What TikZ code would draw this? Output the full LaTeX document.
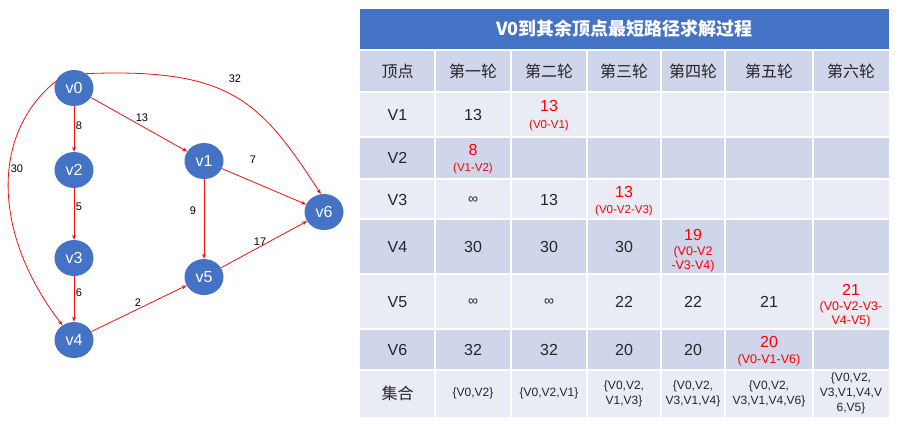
\documentclass[tikz,border=0pt]{standalone}
\usepackage{fontspec}
\setmainfont{Liberation Sans}
\newfontfamily\cjk{Noto Sans CJK SC}
\usetikzlibrary{shapes.geometric,arrows.meta}
\definecolor{nodeblue}{HTML}{4472C4}
\definecolor{titleblue}{HTML}{4472C4}
\definecolor{rowdark}{HTML}{CFD5EA}
\definecolor{rowlight}{HTML}{E9EBF5}
\definecolor{edgered}{HTML}{F01010}
\definecolor{redtext}{HTML}{FF0000}
\definecolor{bodytext}{HTML}{262626}
\begin{document}
\begin{tikzpicture}[x=1pt,y=-1pt,
  vert/.style={ellipse,fill=nodeblue,minimum width=39pt,minimum height=36pt,inner sep=0pt,text=white,font=\fontsize{16}{16}\selectfont},
  redarrow/.style={draw=edgered,line width=0.8pt,-{Stealth[length=5pt,width=4pt]}},
  elabel/.style={font=\fontsize{11}{12}\selectfont,inner sep=0pt,text=black},
  tcell/.style={font=\fontsize{16}{18}\selectfont,inner sep=0pt,text=bodytext},
  hcell/.style={font=\cjk\fontsize{16}{18}\selectfont,inner sep=0pt,text=bodytext},
  infcell/.style={font=\fontsize{14}{16}\selectfont,inner sep=0pt,text=bodytext},
  bigred/.style={font=\fontsize{16}{18}\selectfont,inner sep=0pt,text=redtext},
  smallred/.style={font=\fontsize{11.5}{13}\selectfont,inner sep=0pt,text=redtext,align=center},
  midred/.style={font=\fontsize{12.5}{14}\selectfont,inner sep=0pt,text=redtext,align=center},
  setcell/.style={font=\fontsize{12}{15}\selectfont,inner sep=0pt,text=bodytext,align=center},
  titletext/.style={font=\cjk\bfseries\fontsize{18}{20}\selectfont,inner sep=0pt,text=white},
  gridline/.style={white,line width=1.6pt}
]
\useasboundingbox (0,0) rectangle (898,424);

% ---------- graph ----------
\node[vert] (v0) at (74,88) {v0};
\node[vert] (v2) at (74,170) {v2};
\node[vert] (v3) at (74,258) {v3};
\node[vert] (v4) at (74,340) {v4};
\node[vert] (v1) at (204,161) {v1};
\node[vert] (v5) at (204,277) {v5};
\node[vert] (v6) at (324,212) {v6};

\draw[redarrow] (v0) -- (v2);
\draw[redarrow] (v0) -- (v1);
\draw[redarrow] (v0.50) .. controls (230,68) and (260,100) .. (v6.100);
\draw[redarrow] (v0.160) .. controls (-10,135) and (-7,235) .. (v4.128);
\draw[redarrow] (v2) -- (v3);
\draw[redarrow] (v3) -- (v4);
\draw[redarrow] (v1) -- (v6);
\draw[redarrow] (v1) -- (v5);
\draw[redarrow] (v4) -- (v5);
\draw[redarrow] (v5) -- (v6);

\node[elabel] (l32) at (235,79) {32};
\node[elabel] (l13) at (142,118) {13};
\node[elabel] (l8) at (79,126) {8};
\node[elabel] (l30) at (17,169) {30};
\node[elabel] (l7) at (253,160) {7};
\node[elabel] (l5) at (79,207) {5};
\node[elabel] (l9) at (193,211) {9};
\node[elabel] (l17) at (260,242) {17};
\node[elabel] (l6) at (79,293) {6};
\node[elabel] (l2) at (138,303) {2};

% ---------- table ----------
\fill[titleblue] (360,9) rectangle (889,49);
\foreach \ya/\yb/\c in {51/92/rowdark, 92/137/rowlight, 137/179/rowdark, 179/219/rowlight, 219/274/rowdark, 274/329/rowlight, 329/370/rowdark, 370/417/rowlight}
  \fill[\c] (360,\ya) rectangle (889,\yb);
\foreach \x in {435,511,587,661,725,813}
  \draw[gridline] (\x,51) -- (\x,417);
\foreach \y in {92,137,179,219,274,329,370}
  \draw[gridline] (360,\y) -- (889,\y);

\node[titletext] (title) at (624.5,29) {V0到其余顶点最短路径求解过程};

% header
\node[hcell] (h0) at (397.5,71.5) {顶点};
\node[hcell] (h1) at (473,71.5) {第一轮};
\node[hcell] (h2) at (549,71.5) {第二轮};
\node[hcell] (h3) at (624,71.5) {第三轮};
\node[hcell] (h4) at (693,71.5) {第四轮};
\node[hcell] (h5) at (769,71.5) {第五轮};
\node[hcell] (h6) at (851,71.5) {第六轮};

% V1
\node[tcell] (r1c0) at (397.5,115) {V1};
\node[tcell] (r1c1) at (473,115) {13};
\node[bigred] (r1c2a) at (549,106) {13};
\node[smallred] (r1c2b) at (549,126) {(V0-V1)};

% V2
\node[tcell] (r2c0) at (397.5,158) {V2};
\node[bigred] (r2c1a) at (473,150) {8};
\node[smallred] (r2c1b) at (473,169) {(V1-V2)};

% V3
\node[tcell] (r3c0) at (397.5,200) {V3};
\node[infcell] (r3c1) at (473,200) {∞};
\node[tcell] (r3c2) at (549,200) {13};
\node[bigred] (r3c3a) at (624,192) {13};
\node[smallred] (r3c3b) at (624,211) {(V0-V2-V3)};

% V4
\node[tcell] (r4c0) at (397.5,247) {V4};
\node[tcell] (r4c1) at (473,247) {30};
\node[tcell] (r4c2) at (549,247) {30};
\node[tcell] (r4c3) at (624,247) {30};
\node[bigred] (r4c4a) at (693,235) {19};
\node[midred] (r4c4b) at (693,259) {(V0-V2\\-V3-V4)};

% V5
\node[tcell] (r5c0) at (397.5,302) {V5};
\node[infcell] (r5c1) at (473,302) {∞};
\node[infcell] (r5c2) at (549,302) {∞};
\node[tcell] (r5c3) at (624,302) {22};
\node[tcell] (r5c4) at (693,302) {22};
\node[tcell] (r5c5) at (769,302) {21};
\node[bigred] (r5c6a) at (851,290) {21};
\node[midred] (r5c6b) at (851,314) {(V0-V2-V3-\\V4-V5)};

% V6
\node[tcell] (r6c0) at (397.5,350) {V6};
\node[tcell] (r6c1) at (473,350) {32};
\node[tcell] (r6c2) at (549,350) {32};
\node[tcell] (r6c3) at (624,350) {20};
\node[tcell] (r6c4) at (693,350) {20};
\node[bigred] (r6c5a) at (769,342) {20};
\node[midred] (r6c5b) at (769,360) {(V0-V1-V6)};

% set row
\node[hcell] (r7c0) at (397.5,393.5) {集合};
\node[setcell] (r7c1) at (473,393.5) {\{V0,V2\}};
\node[setcell] (r7c2) at (549,393.5) {\{V0,V2,V1\}};
\node[setcell] (r7c3) at (624,393.5) {\{V0,V2,\\V1,V3\}};
\node[setcell] (r7c4) at (693,393.5) {\{V0,V2,\\V3,V1,V4\}};
\node[setcell] (r7c5) at (769,393.5) {\{V0,V2,\\V3,V1,V4,V6\}};
\node[setcell] (r7c6) at (851,393.5) {\{V0,V2,\\V3,V1,V4,V\\6,V5\}};
\end{tikzpicture}
\end{document}
